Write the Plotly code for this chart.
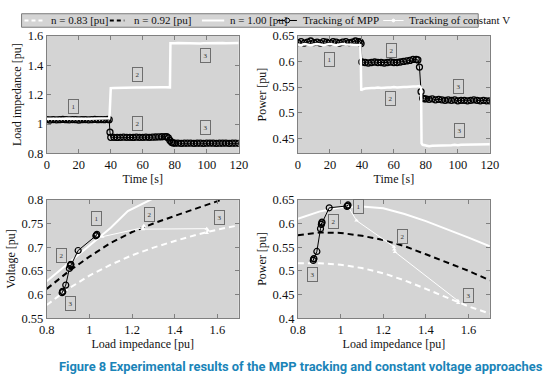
import plotly.graph_objects as go

W, H = 558, 386

# ---------------- data ----------------
# Time series, MPP tracking
t_mpp = [0, 2, 4, 6, 8, 10, 12, 14, 16, 18, 20, 22, 24, 26, 28, 30, 32, 34, 36, 38,
         39, 39.5, 40,
         42, 44, 46, 48, 50, 52, 54, 56, 58, 60, 62, 64, 66, 68, 70, 72, 74,
         75, 76, 77, 78, 79,
         80, 82, 84, 86, 88, 90, 92, 94, 96, 98, 100, 102, 104, 106, 108, 110, 112, 114, 116, 118, 120]
z_mpp = [1.03, 1.028, 1.031, 1.029, 1.03, 1.032, 1.03, 1.029, 1.031, 1.03, 1.028, 1.03, 1.031, 1.029, 1.03, 1.032, 1.03, 1.031, 1.03, 1.032,
         1.03, 0.945, 0.91,
         0.91, 0.909, 0.91, 0.911, 0.91, 0.91, 0.909, 0.911, 0.91, 0.91, 0.911, 0.91, 0.911, 0.912, 0.913, 0.914, 0.915,
         0.914, 0.906, 0.889, 0.876, 0.872,
         0.87, 0.871, 0.869, 0.87, 0.87, 0.871, 0.869, 0.87, 0.87, 0.869, 0.87, 0.871, 0.87, 0.869, 0.87, 0.87, 0.871, 0.869, 0.87, 0.87, 0.869]
p_mpp = [0.637, 0.639, 0.636, 0.638, 0.64, 0.637, 0.638, 0.636, 0.639, 0.638, 0.637, 0.639, 0.638, 0.636, 0.638, 0.639, 0.637, 0.638, 0.64, 0.639,
         0.638, 0.635, 0.599,
         0.598, 0.597, 0.598, 0.599, 0.598, 0.598, 0.597, 0.598, 0.599, 0.598, 0.598, 0.599, 0.6, 0.601, 0.602, 0.604, 0.604,
         0.603, 0.589, 0.541, 0.528, 0.527,
         0.527, 0.526, 0.527, 0.525, 0.526, 0.525, 0.524, 0.525, 0.524, 0.525, 0.523, 0.524, 0.524, 0.523, 0.524, 0.525, 0.524, 0.523, 0.524, 0.523, 0.523]

# Time series, constant-voltage tracking
t_cv = [0, 2, 4, 6, 8, 10, 12, 14, 16, 18, 20, 22, 24, 26, 28, 30, 32, 34, 36, 38,
        39, 39.3, 39.6,
        40, 42, 44, 46, 48, 50, 52, 54, 56, 58, 60, 62, 64, 66, 68, 70, 72, 74, 76,
        77, 77.3,
        78, 80, 82, 84, 86, 88, 90, 92, 94, 96, 98, 100, 102, 104, 106, 108, 110, 112, 114, 116, 118, 120]
z_cv = [1.037, 1.036, 1.038, 1.037, 1.036, 1.037, 1.038, 1.037, 1.036, 1.037, 1.038, 1.037, 1.036, 1.037, 1.038, 1.037, 1.036, 1.037, 1.038, 1.038,
        1.04, 1.07, 1.245,
        1.245, 1.246, 1.247, 1.247, 1.248, 1.248, 1.248, 1.249, 1.249, 1.249, 1.25, 1.25, 1.25, 1.25, 1.25, 1.251, 1.251, 1.251, 1.25,
        1.25, 1.55,
        1.549, 1.55, 1.551, 1.55, 1.549, 1.55, 1.551, 1.55, 1.55, 1.549, 1.55, 1.551, 1.55, 1.55, 1.549, 1.55, 1.551, 1.55, 1.55, 1.549, 1.55, 1.551]
p_cv = [0.633, 0.632, 0.634, 0.633, 0.632, 0.633, 0.634, 0.633, 0.632, 0.633, 0.634, 0.633, 0.632, 0.633, 0.634, 0.633, 0.633, 0.632, 0.633, 0.632,
        0.632, 0.606, 0.543,
        0.545, 0.547, 0.548, 0.548, 0.548, 0.549, 0.548, 0.549, 0.549, 0.549, 0.55, 0.549, 0.55, 0.55, 0.55, 0.551, 0.551, 0.551, 0.552,
        0.548, 0.44,
        0.437, 0.436, 0.434, 0.435, 0.435, 0.436, 0.435, 0.436, 0.436, 0.436, 0.437, 0.436, 0.437, 0.437, 0.437, 0.437, 0.438, 0.437, 0.438, 0.438, 0.438, 0.438]

# Static characteristics vs load impedance
z_n100_v = [0.8, 0.9, 1.0, 1.1, 1.18, 1.3]
v_n100 = [0.628, 0.665, 0.703, 0.741, 0.776, 0.803]
z_n092_v = [0.8, 0.9, 1.0, 1.1, 1.2, 1.3, 1.4, 1.5, 1.62]
v_n092 = [0.612, 0.648, 0.68, 0.709, 0.732, 0.75, 0.766, 0.782, 0.8]
z_n083_v = [0.8, 0.9, 1.0, 1.1, 1.2, 1.3, 1.4, 1.5, 1.6, 1.7]
v_n083 = [0.578, 0.612, 0.64, 0.663, 0.683, 0.699, 0.713, 0.726, 0.737, 0.746]

z_curve = [0.8, 0.9, 1.0, 1.1, 1.2, 1.3, 1.4, 1.5, 1.6, 1.7]
p_n100 = [0.61, 0.625, 0.634, 0.636, 0.632, 0.62, 0.605, 0.588, 0.57, 0.552]
p_n092 = [0.575, 0.581, 0.58, 0.574, 0.565, 0.552, 0.535, 0.518, 0.5, 0.48]
p_n083 = [0.516, 0.516, 0.513, 0.506, 0.495, 0.48, 0.462, 0.443, 0.425, 0.41]

# Tracking trajectories in the Z plane
zt_mpp = [1.03, 1.035, 1.033, 0.947, 0.913, 0.91, 0.912, 0.906, 0.889, 0.874, 0.872, 0.875]
vt_mpp = [0.724, 0.727, 0.725, 0.693, 0.664, 0.661, 0.663, 0.655, 0.62, 0.607, 0.604, 0.606]
pt_mpp = [0.636, 0.639, 0.637, 0.633, 0.603, 0.598, 0.601, 0.589, 0.541, 0.525, 0.522, 0.526]

zt_cv_v = [1.035, 1.06, 1.25, 1.255, 1.25, 1.55, 1.555, 1.55]
vt_cv = [0.725, 0.722, 0.741, 0.745, 0.738, 0.739, 0.735, 0.73]
zt_cv_p = [1.035, 1.075, 1.25, 1.252, 1.255, 1.55, 1.552]
pt_cv = [0.636, 0.606, 0.551, 0.545, 0.54, 0.437, 0.432]

# State labels (text, x, y) per panel
lab_tl = [("1", 17, 1.12), ("2", 56.5, 1.338), ("2", 56.5, 1.003), ("3", 99.5, 1.47), ("3", 99.5, 0.977)]
lab_tr = [("1", 20, 0.6046), ("2", 58.4, 0.6214), ("2", 58, 0.528), ("3", 100.5, 0.5515), ("3", 100.8, 0.464)]
lab_bl = [("1", 1.031, 0.761), ("2", 1.283, 0.768), ("3", 1.608, 0.763), ("2", 0.867, 0.682), ("3", 0.913, 0.582)]
lab_br = [("1", 1.086, 0.6365), ("2", 0.969, 0.605), ("2", 1.292, 0.572), ("3", 0.867, 0.493), ("3", 1.6, 0.449)]

legend_labels = ["n = 0.83 [pu]", "n = 0.92 [pu]", "n = 1.00 [pu]", "Tracking of MPP", "Tracking of constant V"]
caption = "Figure 8 Experimental results of the MPP tracking and constant voltage approaches"

# ---------------- styling ----------------
BG = "#d4d4d4"
FRAME = "#808080"
SERIF = "Liberation Serif"
CAPFONT = "Roboto"
DASH = "6px,4px"


def px_x(p):
    return p / W


def px_y(p):
    return 1 - p / H


fig = go.Figure()

doms = {
    "tl": ([40, 238], [30, 152]),
    "tr": ([299, 497], [30, 152]),
    "bl": ([40, 238], [200, 323]),
    "br": ([299, 497], [200, 323]),
}
axes = {"tl": ("x", "y"), "tr": ("x2", "y2"), "bl": ("x3", "y3"), "br": ("x4", "y4")}


def axis_common():
    return dict(showline=True, mirror="ticks", linecolor=FRAME, linewidth=1,
                ticks="inside", ticklen=4, tickcolor=FRAME, tickwidth=1,
                showgrid=False, zeroline=False,
                tickfont=dict(family=SERIF, size=12.5, color="#111"))


mpp_marker = dict(symbol="circle-open", size=6, color="black", line=dict(width=1.3, color="black"))

fig.add_trace(go.Scatter(x=t_mpp, y=z_mpp, mode="lines+markers", line=dict(color="black", width=1),
                         marker=mpp_marker, xaxis="x", yaxis="y", showlegend=False))
fig.add_trace(go.Scatter(x=t_cv, y=z_cv, mode="lines", line=dict(color="white", width=2.5),
                         xaxis="x", yaxis="y", showlegend=False))
fig.add_trace(go.Scatter(x=t_mpp, y=p_mpp, mode="lines+markers", line=dict(color="black", width=1),
                         marker=mpp_marker, xaxis="x2", yaxis="y2", showlegend=False))
fig.add_trace(go.Scatter(x=t_cv, y=p_cv, mode="lines", line=dict(color="white", width=2.5),
                         xaxis="x2", yaxis="y2", showlegend=False))

fig.add_trace(go.Scatter(x=z_n083_v, y=v_n083, mode="lines", line=dict(color="white", width=2, dash=DASH),
                         xaxis="x3", yaxis="y3", showlegend=False))
fig.add_trace(go.Scatter(x=z_n092_v, y=v_n092, mode="lines", line=dict(color="black", width=2, dash=DASH),
                         xaxis="x3", yaxis="y3", showlegend=False))
fig.add_trace(go.Scatter(x=z_n100_v, y=v_n100, mode="lines", line=dict(color="white", width=2),
                         xaxis="x3", yaxis="y3", showlegend=False))
fig.add_trace(go.Scatter(x=zt_cv_v, y=vt_cv, mode="lines+markers", line=dict(color="white", width=1),
                         marker=dict(symbol="triangle-up", size=4, color="white"),
                         xaxis="x3", yaxis="y3", showlegend=False))
fig.add_trace(go.Scatter(x=zt_mpp, y=vt_mpp, mode="lines+markers", line=dict(color="black", width=1),
                         marker=dict(symbol="circle-open", size=6, color="black", line=dict(width=1.2)),
                         xaxis="x3", yaxis="y3", showlegend=False))

fig.add_trace(go.Scatter(x=z_curve, y=p_n083, mode="lines", line=dict(color="white", width=2, dash=DASH),
                         xaxis="x4", yaxis="y4", showlegend=False))
fig.add_trace(go.Scatter(x=z_curve, y=p_n092, mode="lines", line=dict(color="black", width=2, dash=DASH),
                         xaxis="x4", yaxis="y4", showlegend=False))
fig.add_trace(go.Scatter(x=z_curve, y=p_n100, mode="lines", line=dict(color="white", width=2),
                         xaxis="x4", yaxis="y4", showlegend=False))
fig.add_trace(go.Scatter(x=zt_cv_p, y=pt_cv, mode="lines+markers", line=dict(color="white", width=1),
                         marker=dict(symbol="triangle-up", size=4, color="white"),
                         xaxis="x4", yaxis="y4", showlegend=False))
fig.add_trace(go.Scatter(x=zt_mpp, y=pt_mpp, mode="lines+markers", line=dict(color="black", width=1),
                         marker=dict(symbol="circle-open", size=6, color="black", line=dict(width=1.2)),
                         xaxis="x4", yaxis="y4", showlegend=False))

title_font = dict(family=SERIF, size=12, color="#111")
layout = dict(width=W, height=H, margin=dict(l=0, r=0, t=0, b=0),
              paper_bgcolor="white", plot_bgcolor=BG, showlegend=False,
              font=dict(family=SERIF))

specs = {
    "tl": dict(xr=[0, 120], xd=20, yr=[0.8, 1.6], yd=0.2, xt="Time [s]", yt="Load impedance [pu]"),
    "tr": dict(xr=[0, 120], xd=20, yr=[0.42, 0.65], yd=0.05, xt="Time [s]", yt="Power [pu]"),
    "bl": dict(xr=[0.8, 1.7], xd=0.2, yr=[0.55, 0.8], yd=0.05, xt="Load impedance [pu]", yt="Voltage [pu]"),
    "br": dict(xr=[0.8, 1.7], xd=0.2, yr=[0.4, 0.65], yd=0.05, xt="Load impedance [pu]", yt="Power [pu]"),
}
for key, (xa, ya) in axes.items():
    (x0, x1), (y0, y1) = doms[key]
    s = specs[key]
    xname = "xaxis" if xa == "x" else "xaxis" + xa[1:]
    yname = "yaxis" if ya == "y" else "yaxis" + ya[1:]
    xd = axis_common()
    xd.update(domain=[px_x(x0), px_x(x1)], range=s["xr"], dtick=s["xd"], tick0=s["xr"][0],
              anchor=ya, title=dict(text=s["xt"], font=title_font, standoff=1))
    yd = axis_common()
    yd.update(domain=[px_y(y1), px_y(y0)], range=s["yr"], dtick=s["yd"], tick0=0,
              anchor=xa, title=dict(text=s["yt"], font=title_font, standoff=3))
    layout[xname] = xd
    layout[yname] = yd

fig.update_layout(**layout)

box_style = dict(showarrow=False, font=dict(family=SERIF, size=7, color="#333"),
                 bgcolor=BG, bordercolor="#6e6e6e", borderwidth=1, borderpad=2.5)
for labs, (xa, ya) in zip([lab_tl, lab_tr, lab_bl, lab_br], axes.values()):
    for txt, lx, ly in labs:
        fig.add_annotation(text=txt, x=lx, y=ly, xref=xa, yref=ya, **box_style)

# ---- custom legend
fig.add_shape(type="rect", xref="paper", yref="paper", x0=px_x(14), x1=px_x(485), y0=px_y(7), y1=px_y(21),
              fillcolor=BG, line=dict(color="#7a7a7a", width=1), layer="below")
ly = px_y(14)
samples = [
    (17, 38, "white", "dash", None),
    (105, 120, "black", "dash", None),
    (200, 223, "white", "solid", None),
    (278, 298, "black", "solid", "circle"),
    (387, 408, "white", "solid", "dot"),
]
for x0, x1, col, dsh, mk in samples:
    fig.add_shape(type="line", xref="paper", yref="paper", x0=px_x(x0), x1=px_x(x1), y0=ly, y1=ly,
                  line=dict(color=col, width=2 if mk is None else 1, dash="4px,3px" if dsh == "dash" else "solid"))
    xc = (x0 + x1) / 2
    if mk == "circle":
        fig.add_shape(type="circle", xref="paper", yref="paper", x0=px_x(xc - 2.5), x1=px_x(xc + 2.5),
                      y0=px_y(16.5), y1=px_y(11.5), line=dict(color="black", width=1), fillcolor=BG)
    elif mk == "dot":
        fig.add_shape(type="circle", xref="paper", yref="paper", x0=px_x(xc - 1.5), x1=px_x(xc + 1.5),
                      y0=px_y(15.5), y1=px_y(12.5), line=dict(color="white", width=1), fillcolor="white")
text_x = [42, 128, 227, 302, 412]
for tx, txt in zip(text_x, legend_labels):
    fig.add_annotation(text=txt, x=px_x(tx), y=ly, xref="paper", yref="paper", xanchor="left", yanchor="middle",
                       showarrow=False, font=dict(family=SERIF, size=11, color="#111"))

fig.add_annotation(text="<b>" + caption + "</b>", x=px_x(554), y=px_y(373), xref="paper", yref="paper",
                   xanchor="right", yanchor="middle", showarrow=False,
                   font=dict(family=CAPFONT, size=12.9, color="#1a84b8"))

fig.write_html("out.html", config={"displayModeBar": False},
               post_script="document.body.style.margin='0';document.body.style.padding='0';")
